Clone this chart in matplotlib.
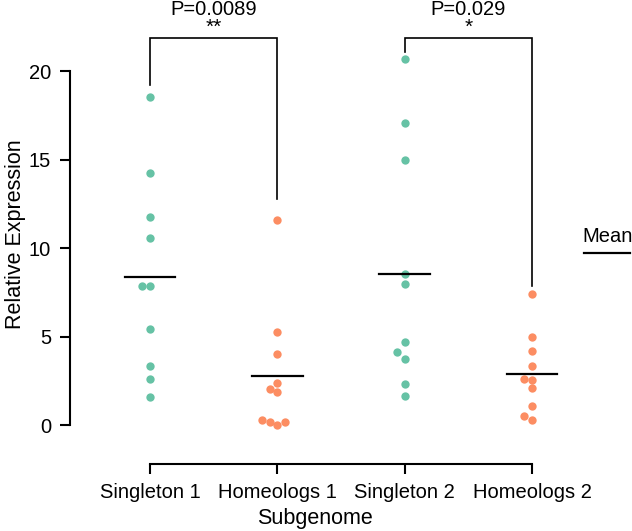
import matplotlib.pyplot as plt
from matplotlib.lines import Line2D
import numpy as np

plt.rcParams["font.family"] = ["Liberation Sans", "DejaVu Sans"]

# --- Data ------------------------------------------------------------------
groups = ["Singleton 1", "Homeologs 1", "Singleton 2", "Homeologs 2"]
singleton_1 = [18.55, 14.24, 11.73, 10.58, 7.85, 7.85, 5.41, 3.35, 2.58, 1.58]
homeologs_1 = [11.58, 5.27, 4.03, 2.37, 2.02, 1.85, 0.15, 0.0, 0.15, 0.26]
singleton_2 = [20.66, 17.06, 14.95, 8.55, 7.95, 4.69, 4.10, 3.71, 2.30, 1.64]
homeologs_2 = [7.38, 4.95, 4.18, 3.33, 2.60, 2.54, 2.09, 1.09, 0.53, 0.28]
values = [singleton_1, homeologs_1, singleton_2, homeologs_2]
colors = ["#66c2a5", "#fc8d62", "#66c2a5", "#fc8d62"]

# comparisons: (left group, right group, left leg end, right leg end, p text, stars)
comparisons = [
    (0, 1, 19.2, 12.77, "P=0.0089", "**"),
    (2, 3, 21.09, 7.85, "P=0.029", "*"),
]
bracket_y = 21.88

FS = 14.5
LABEL_FS = 15.5


# --- Helpers ---------------------------------------------------------------

def swarm_offsets(ys, x_scale, y_scale, diam):
    """Simple beeswarm: place points one by one, nudging sideways on overlap."""
    order = np.argsort(ys, kind="stable")
    placed = []
    offs = np.zeros(len(ys))
    for i in order:
        yp = ys[i] * y_scale
        k = 0
        while True:
            cand = [0] if k == 0 else [-k, k]
            ok = None
            for c in cand:
                xp = c * diam
                if all((xp - px) ** 2 + (yp - py) ** 2 >= (diam * 0.95) ** 2 for px, py in placed):
                    ok = xp
                    break
            if ok is not None:
                break
            k += 1
        placed.append((ok, yp))
        offs[i] = ok / x_scale
    return offs


# --- Plot ------------------------------------------------------------------
fig = plt.figure(figsize=(6.32, 5.31), dpi=100)
ax = fig.add_axes([70 / 632, 1 - 464 / 531, 490 / 632, 459 / 531])

xlim = (-0.628, 3.22)
ylim = (-2.2, 23.73)
ax.set_xlim(*xlim)
ax.set_ylim(*ylim)

x_px = 490 / (xlim[1] - xlim[0])
y_px = 459 / (ylim[1] - ylim[0])

for i, (vals, col) in enumerate(zip(values, colors)):
    vals = np.array(vals)
    offs = swarm_offsets(vals, x_px, y_px, 7.8)
    ax.scatter(i + offs, vals, s=36, color=col, linewidths=0, zorder=3, clip_on=False)
    m = vals.mean()
    ax.plot([i - 0.2, i + 0.2], [m, m], color="black", lw=1.6, zorder=4)

for a, b, ya, yb, ptxt, stars in comparisons:
    ax.plot([a, a, b, b], [ya, bracket_y, bracket_y, yb], color="black", lw=1.2,
            clip_on=False, solid_joinstyle="miter")
    ax.text((a + b) / 2, bracket_y + 0.05, stars, ha="center", va="bottom", fontsize=15)
    ax.text((a + b) / 2, 23.45, ptxt, ha="center", va="center", fontsize=FS, clip_on=False)

for side in ["top", "right"]:
    ax.spines[side].set_visible(False)
ax.spines["left"].set_bounds(0, 20)
ax.spines["bottom"].set_bounds(0, 3)
for side in ["left", "bottom"]:
    ax.spines[side].set_linewidth(1.5)

ax.set_yticks([0, 5, 10, 15, 20])
ax.set_xticks(range(len(groups)))
ax.set_xticklabels(groups)
ax.tick_params(axis="both", direction="out", length=7.5, width=1.5, labelsize=FS)
ax.tick_params(axis="y", pad=6)
ax.tick_params(axis="x", pad=6.5)

ax.set_ylabel("Relative Expression", fontsize=LABEL_FS, labelpad=2)
ax.set_xlabel("Subgenome", fontsize=LABEL_FS, labelpad=4)

# mean legend
fig.text(582 / 632, 1 - 236 / 531, "Mean", ha="left", va="center", fontsize=FS)
fig.add_artist(Line2D([584 / 632, 630 / 632], [1 - 253 / 531, 1 - 253 / 531],
                      color="black", lw=1.6, transform=fig.transFigure))

fig.savefig("out.png", dpi=100)
